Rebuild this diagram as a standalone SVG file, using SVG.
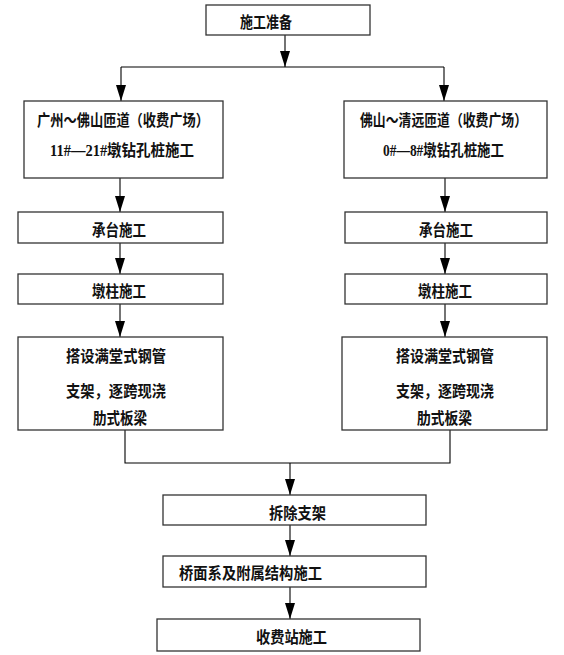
<svg xmlns="http://www.w3.org/2000/svg" width="564" height="655" viewBox="0 0 564 655">
<style>
.box{fill:#fff;stroke:#333;stroke-width:1.3}
.lbl{font-family:"Liberation Serif","Noto Sans CJK SC",serif;font-size:16px;font-weight:bold;fill:#111}
.con{fill:none;stroke:#000;stroke-width:1.1}
</style>
<defs>
<marker id="arr" viewBox="0 0 16 10" refX="16" refY="5" markerWidth="16" markerHeight="10" markerUnits="userSpaceOnUse" orient="auto">
<path d="M0,0 L16,5 L0,10 z" fill="#000"/>
</marker>
</defs>
<rect width="564" height="655" fill="#fff"/>
<g id="connectors">
<line class="con" x1="285" y1="35" x2="285" y2="67" marker-end="url(#arr)"/>
<line class="con" x1="121" y1="67" x2="444" y2="67"/>
<line class="con" x1="121" y1="67" x2="121" y2="101" marker-end="url(#arr)"/>
<line class="con" x1="444" y1="67" x2="444" y2="101" marker-end="url(#arr)"/>
<line class="con" x1="120" y1="178" x2="120" y2="212" marker-end="url(#arr)"/>
<line class="con" x1="120" y1="243" x2="120" y2="274" marker-end="url(#arr)"/>
<line class="con" x1="120" y1="304" x2="120" y2="337" marker-end="url(#arr)"/>
<line class="con" x1="445" y1="178" x2="445" y2="212" marker-end="url(#arr)"/>
<line class="con" x1="445" y1="243" x2="445" y2="274" marker-end="url(#arr)"/>
<line class="con" x1="445" y1="304" x2="445" y2="337" marker-end="url(#arr)"/>
<polyline class="con" points="125,430 125,463 450,463 450,430"/>
<line class="con" x1="290" y1="463" x2="290" y2="495" marker-end="url(#arr)"/>
<line class="con" x1="290" y1="525" x2="290" y2="556" marker-end="url(#arr)"/>
<line class="con" x1="290" y1="587" x2="290" y2="619" marker-end="url(#arr)"/>
</g>
<g id="n-prep">
<rect class="box" x="206" y="5" width="164" height="30"/>
<text class="lbl" x="240" y="28" textLength="52" lengthAdjust="spacingAndGlyphs">施工准备</text>
</g>
<g id="n-left-pile">
<rect class="box" x="24" y="101" width="199" height="77"/>
<text class="lbl" x="37" y="126" textLength="172" lengthAdjust="spacingAndGlyphs">广州～佛山匝道（收费广场）</text>
<text class="lbl" x="50" y="156" textLength="144" lengthAdjust="spacingAndGlyphs">11#—21#墩钻孔桩施工</text>
</g>
<g id="n-right-pile">
<rect class="box" x="344" y="101" width="203" height="77"/>
<text class="lbl" x="360" y="126" textLength="167" lengthAdjust="spacingAndGlyphs">佛山～清远匝道（收费广场）</text>
<text class="lbl" x="383" y="156" textLength="121" lengthAdjust="spacingAndGlyphs">0#—8#墩钻孔桩施工</text>
</g>
<g id="n-left-cap">
<rect class="box" x="18" y="212" width="205" height="31"/>
<text class="lbl" x="92" y="236" textLength="54" lengthAdjust="spacingAndGlyphs">承台施工</text>
</g>
<g id="n-right-cap">
<rect class="box" x="345" y="212" width="202" height="31"/>
<text class="lbl" x="419" y="236" textLength="54" lengthAdjust="spacingAndGlyphs">承台施工</text>
</g>
<g id="n-left-pier">
<rect class="box" x="18" y="274" width="205" height="30"/>
<text class="lbl" x="92" y="297" textLength="54" lengthAdjust="spacingAndGlyphs">墩柱施工</text>
</g>
<g id="n-right-pier">
<rect class="box" x="345" y="274" width="202" height="30"/>
<text class="lbl" x="418" y="297" textLength="54" lengthAdjust="spacingAndGlyphs">墩柱施工</text>
</g>
<g id="n-left-beam">
<rect class="box" x="18" y="337" width="205" height="93"/>
<text class="lbl" x="66" y="362" textLength="100" lengthAdjust="spacingAndGlyphs">搭设满堂式钢管</text>
<text class="lbl" x="66" y="397" textLength="100" lengthAdjust="spacingAndGlyphs">支架，逐跨现浇</text>
<text class="lbl" x="93" y="424" textLength="54" lengthAdjust="spacingAndGlyphs">肋式板梁</text>
</g>
<g id="n-right-beam">
<rect class="box" x="342" y="337" width="205" height="93"/>
<text class="lbl" x="396" y="362" textLength="98" lengthAdjust="spacingAndGlyphs">搭设满堂式钢管</text>
<text class="lbl" x="396" y="397" textLength="98" lengthAdjust="spacingAndGlyphs">支架，逐跨现浇</text>
<text class="lbl" x="417" y="424" textLength="55" lengthAdjust="spacingAndGlyphs">肋式板梁</text>
</g>
<g id="n-remove">
<rect class="box" x="163" y="495" width="263" height="30"/>
<text class="lbl" x="269" y="519" textLength="57" lengthAdjust="spacingAndGlyphs">拆除支架</text>
</g>
<g id="n-deck">
<rect class="box" x="163" y="556" width="263" height="31"/>
<text class="lbl" x="179" y="579" textLength="143" lengthAdjust="spacingAndGlyphs">桥面系及附属结构施工</text>
</g>
<g id="n-toll">
<rect class="box" x="157" y="619" width="263" height="32"/>
<text class="lbl" x="256" y="643" textLength="71" lengthAdjust="spacingAndGlyphs">收费站施工</text>
</g>
</svg>
